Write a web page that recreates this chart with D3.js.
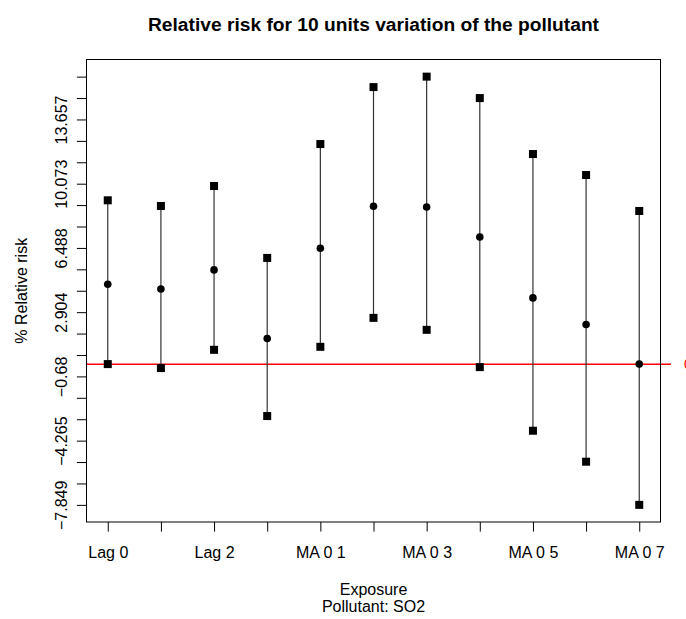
<!DOCTYPE html>
<html><head><meta charset="utf-8">
<script src="https://cdn.jsdelivr.net/npm/d3@7"></script>
<style>body{margin:0;background:#fff;} svg{display:block;font-family:"Liberation Sans",Arial,sans-serif;}</style>
</head><body>
<script>
const categories = ["Lag 0","Lag 1","Lag 2","Lag 3","MA 0 1","MA 0 2","MA 0 3","MA 0 4","MA 0 5","MA 0 6","MA 0 7"];
const estimate = [4.465, 4.20, 5.262, 1.438, 6.472, 8.813, 8.774, 7.102, 3.701, 2.219, 0.006];
const lower    = [0.006, -0.217, 0.803, -2.893, 0.97, 2.586, 1.918, -0.162, -3.712, -5.44, -7.849];
const upper    = [9.147, 8.83, 9.945, 5.931, 12.285, 15.463, 16.047, 14.85, 11.728, 10.557, 8.551];
const xTickLabels = ["Lag 0","","Lag 2","","MA 0 1","","MA 0 3","","MA 0 5","","MA 0 7"];
const yTickValues = d3.range(21).map(k => -7.849 + k * (16.047 + 7.849) / 20);
const yTickLabels = ["-7.849","","","-4.265","","","-0.68","","","2.904","","","6.488","","","10.073","","","13.657","",""];

const W = 686, H = 619;
const L = 86.5, R = 660.5, T = 59.5, B = 522;
const FONT = "Liberation Sans, Arial, sans-serif";
const svg = d3.select("body").append("svg").attr("width", W).attr("height", H);

const ymin = d3.min(lower), ymax = d3.max(upper), pad = (ymax - ymin) * 0.04;
const y = d3.scaleLinear().domain([ymin - pad, ymax + pad]).range([B, T]);
const x = d3.scaleLinear().domain([1 - 0.4, categories.length + 0.4]).range([L, R]);

// title
svg.append("text").attr("x", (L + R) / 2).attr("y", 31).attr("text-anchor", "middle")
  .attr("font-weight", "bold").attr("font-size", 19.2).text("Relative risk for 10 units variation of the pollutant");

// reference line at 0
svg.append("line").attr("x1", L).attr("x2", 671).attr("y1", y(0)).attr("y2", y(0))
  .attr("stroke", "#ff0000").attr("stroke-width", 1.5);
svg.append("text").attr("x", 684).attr("y", y(0) + 5).attr("fill", "#ff0000").attr("font-size", 14).text("0");

// whiskers
const g = svg.append("g");
categories.forEach((c, i) => {
  const xi = x(i + 1);
  g.append("line").attr("x1", xi).attr("x2", xi).attr("y1", y(lower[i])).attr("y2", y(upper[i]))
    .attr("stroke", "#333").attr("stroke-width", 1.2);
  [lower[i], upper[i]].forEach(v => {
    g.append("rect").attr("x", xi - 4).attr("y", y(v) - 4).attr("width", 8).attr("height", 8).attr("fill", "#000");
  });
  g.append("circle").attr("cx", xi).attr("cy", y(estimate[i])).attr("r", 3.8).attr("fill", "#000");
});

// box
svg.append("rect").attr("x", L).attr("y", T).attr("width", R - L).attr("height", B - T)
  .attr("fill", "none").attr("stroke", "#000").attr("stroke-width", 1);

// y axis
const yAxis = d3.axisLeft(y).tickValues(yTickValues).tickSize(9.6).tickFormat((d, i) => yTickLabels[i].replace("-", "\u2212"));
const ya = svg.append("g").attr("transform", `translate(${L},0)`).call(yAxis);
ya.select(".domain").remove();
ya.selectAll("line").attr("stroke", "#000");
ya.selectAll("text").attr("font-size", 16).attr("font-family", FONT).attr("fill", "#000")
  .attr("text-anchor", "middle").attr("x", 0).attr("dy", 0)
  .attr("transform", "translate(-19.5,0) rotate(-90)");

// x axis
const xAxis = d3.axisBottom(x).tickValues(d3.range(1, categories.length + 1)).tickSize(9.6)
  .tickFormat((d, i) => xTickLabels[i]);
const xa = svg.append("g").attr("transform", `translate(0,${B})`).call(xAxis);
xa.select(".domain").remove();
xa.selectAll("line").attr("stroke", "#000");
xa.selectAll("text").attr("font-size", 16).attr("font-family", FONT).attr("fill", "#000")
  .attr("y", 35.7).attr("dy", 0);

// axis titles
svg.append("text").attr("x", (L + R) / 2).attr("y", 595).attr("text-anchor", "middle").attr("font-size", 16).text("Exposure");
svg.append("text").attr("x", (L + R) / 2).attr("y", 612).attr("text-anchor", "middle").attr("font-size", 16).text("Pollutant: SO2");
svg.append("text").attr("transform", `translate(27,${(T + B) / 2}) rotate(-90)`).attr("text-anchor", "middle")
  .attr("font-size", 16).text("% Relative risk");
</script>
</body></html>
